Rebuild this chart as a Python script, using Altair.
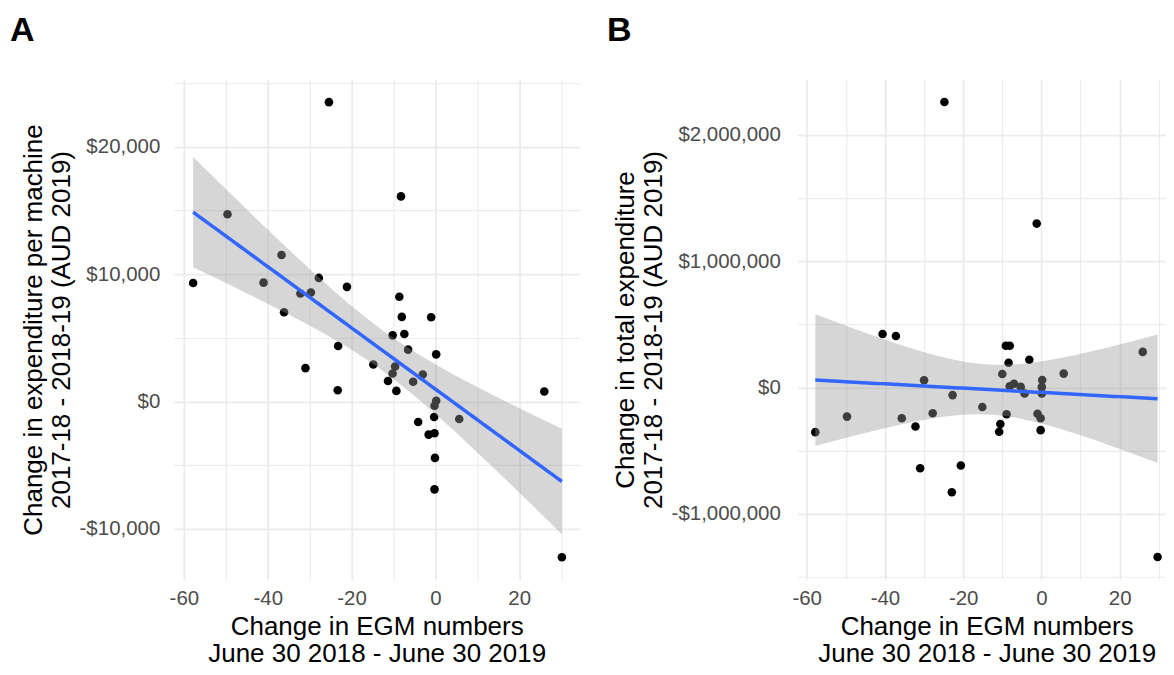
import altair as alt
import numpy as np
import pandas as pd

FONT = "Liberation Sans"

# Panel A: change in EGM numbers vs change in expenditure per machine
a_x = [-25.4, -8.2, -49.6, -36.7, -57.8, -41.0, -27.8, -21.1, -32.2, -29.7,
       -36.1, -8.6, -8.0, -1.0, -7.4, -10.2, -6.5, 0.2, -23.2, -31.0,
       -14.8, -9.6, -10.2, -3.0, -11.3, -5.3, -9.3, -23.3, 26.0, 0.2,
       -0.2, -0.3, 5.7, -4.1, -1.6, -0.2, -0.1, -0.2, 30.2]
a_y = [23500, 16100, 14700, 11500, 9300, 9330, 9700, 9000, 8480, 8550,
       7000, 8220, 6640, 6610, 5300, 5190, 4070, 3700, 4350, 2620,
       2900, 2750, 2200, 2120, 1610, 1550, 830, 880, 780, 50,
       -340, -1220, -1380, -1610, -2600, -2490, -4430, -6900, -12230]

# Panel B: change in EGM numbers vs change in total expenditure
b_x = [-24.8, -1.2, -40.6, -37.2, -9.1, -8.1, -8.4, -3.1, 25.9, -10.0,
       5.7, -30.0, 0.2, -8.1, -7.0, -5.3, -4.3, 0.1, 0.1, -22.7,
       -15.1, -27.8, -35.7, -32.2, -8.9, -10.5, -10.8, -1.0, -0.2, -0.2,
       -57.8, -49.7, -31.0, -20.6, -22.9, 29.7]
b_y = [2259000, 1297000, 424000, 408000, 330000, 330000, 196000, 220000, 282000, 107000,
       110000, 58000, 60000, 10000, 30000, 5000, -47000, 5000, -47000, -60000,
       -154000, -204000, -243000, -308000, -212000, -288000, -350000, -208000, -243000, -337000,
       -353000, -230000, -638000, -617000, -828000, -1341000]

x_title = ["Change in EGM numbers", "June 30 2018 - June 30 2019"]
a_title = ["Change in expenditure per machine", "2017-18 - 2018-19 (AUD 2019)"]
b_title = ["Change in total expenditure", "2017-18 - 2018-19 (AUD 2019)"]
x_grid = [-60, -50, -40, -30, -20, -10, 0, 10, 20, 30]
a_grid = [-10000, -5000, 0, 5000, 10000, 15000, 20000, 25000]
b_grid = [-1500000, -1000000, -500000, 0, 500000, 1000000, 1500000, 2000000]


def t975(df):
    z = 1.959964
    return (z + (z**3 + z) / (4 * df)
            + (5 * z**5 + 16 * z**3 + 3 * z) / (96 * df**2)
            + (3 * z**7 + 19 * z**5 + 17 * z**3 - 15 * z) / (384 * df**3))


def smooth(xs, ys):
    x = np.array(xs, float)
    y = np.array(ys, float)
    n = len(x)
    b, a = np.polyfit(x, y, 1)
    resid = y - (a + b * x)
    s = np.sqrt((resid ** 2).sum() / (n - 2))
    xbar = x.mean()
    sxx = ((x - xbar) ** 2).sum()
    gx = np.linspace(x.min(), x.max(), 80)
    fit = a + b * gx
    se = s * np.sqrt(1.0 / n + (gx - xbar) ** 2 / sxx)
    t = t975(n - 2)
    return pd.DataFrame({"x": gx, "fit": fit, "lo": fit - t * se, "hi": fit + t * se})


def panel(xs, ys, ydom, ygrid, ymajor, ytitle, tag, width, tag_dx, ylp):
    pts = pd.DataFrame({"x": xs, "y": ys})
    band = smooth(xs, ys)
    xscale = alt.Scale(domain=[-62.4, 34.4], nice=False, zero=False)
    yscale = alt.Scale(domain=ydom, nice=False, zero=False)
    common = dict(
        grid=True, gridColor="#EBEBEB", ticks=False, domain=False,
        labelFont=FONT, labelFontSize=20.5, labelColor="#4D4D4D",
        titleFont=FONT, titleFontSize=26, titleFontWeight="normal", titleColor="black",
    )
    xaxis = alt.Axis(
        values=x_grid,
        labelExpr="datum.value % 20 == 0 ? '' + datum.value : ''",
        gridWidth={"condition": {"test": "datum.value % 20 == 0", "value": 1.8}, "value": 1.1},
        title=x_title, labelPadding=9, titlePadding=4, titleLineHeight=27,
        **common,
    )
    yaxis = alt.Axis(
        values=ygrid,
        labelExpr=(f"datum.value % {ymajor} == 0 ? (datum.value < 0 ? '-$' : '$') + "
                   "format(abs(datum.value), ',') : ''"),
        gridWidth={"condition": {"test": f"datum.value % {ymajor} == 0", "value": 1.8}, "value": 1.1},
        title=ytitle, labelPadding=ylp, titlePadding=5, titleLineHeight=28,
        **common,
    )
    X = lambda f: alt.X(f, type="quantitative", scale=xscale, axis=xaxis)
    Y = lambda f: alt.Y(f, type="quantitative", scale=yscale, axis=yaxis)
    points = alt.Chart(pts).mark_circle(size=74, color="black", opacity=1).encode(
        x=X("x"), y=Y("y"))
    area = alt.Chart(band).mark_area(color="#999999", opacity=0.4).encode(
        x=X("x"), y=Y("lo"), y2="hi")
    line = alt.Chart(band).mark_line(color="#3366FF", strokeWidth=3.5).encode(
        x=X("x"), y=Y("fit"))
    return alt.layer(points, area, line).properties(
        width=width, height=501,
        title=alt.TitleParams(tag, anchor="start", frame="bounds", fontSize=34,
                              fontWeight="bold", font=FONT, color="black",
                              offset=31, dx=tag_dx),
    )


pa = panel(a_x, a_y, [-14000, 25300], a_grid, 10000, a_title, "A", 406, -10, 14)
pb = panel(b_x, b_y, [-1521000, 2439000], b_grid, 1000000, b_title, "B", 379, -5, 17)

chart = alt.hconcat(pa, pb, spacing=27).properties(
    padding={"left": 2, "top": 6, "right": -10, "bottom": 0},
    background="white",
).configure_view(stroke=None)

chart.save("out.html", embed_options={"renderer": "svg", "actions": False})
